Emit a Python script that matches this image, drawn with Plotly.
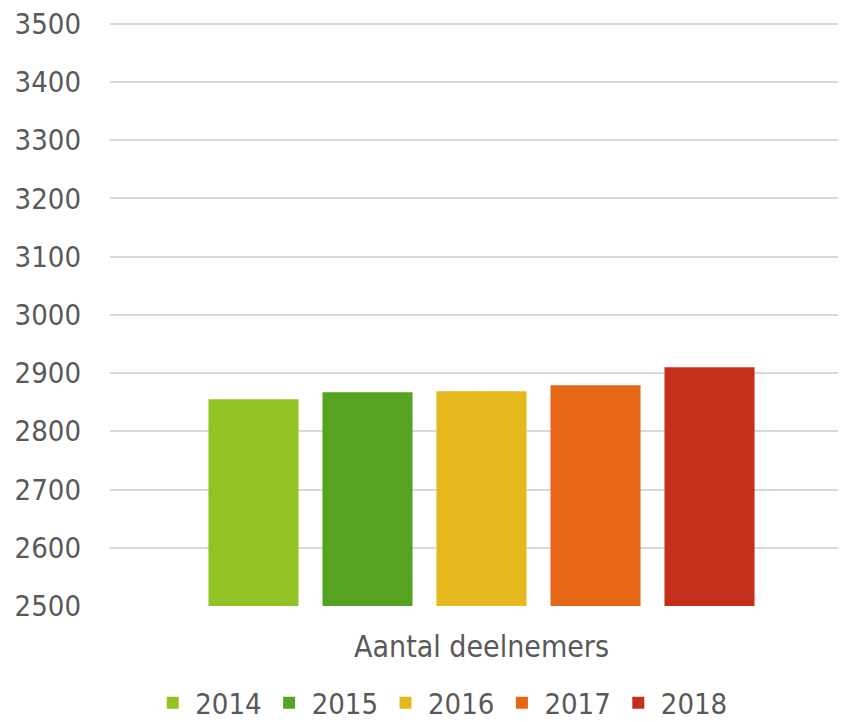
import plotly.graph_objects as go

categories = ["Aantal deelnemers"]
years = ["2014", "2015", "2016", "2017", "2018"]
values = [2855, 2867, 2869, 2879, 2910]
colors = ["#93C225", "#56A221", "#E5B91E", "#E76719", "#C52F1A"]
yticks = [2500, 2600, 2700, 2800, 2900, 3000, 3100, 3200, 3300, 3400, 3500]

FONT = "DejaVu Sans Condensed"
fig = go.Figure()
for y, v, c in zip(years, values, colors):
    fig.add_trace(go.Bar(name=y, x=categories, y=[v], marker=dict(color=c, line=dict(width=0))))

fig.update_layout(
    width=843, height=714,
    margin=dict(l=102, r=13, t=14, b=116, autoexpand=False),
    paper_bgcolor="white", plot_bgcolor="white",
    barmode="group", bargap=0.217, bargroupgap=0.21,
    font=dict(family=FONT, size=30, color="#595959"),
    showlegend=True,
    legend=dict(orientation="h", x=0.455, xanchor="center", y=-0.166, yanchor="middle",
                font=dict(size=29, color="#595959"), itemwidth=35, traceorder="normal"),
    xaxis=dict(range=[-0.5103, 0.4897], showgrid=False, showline=False, ticks="", ticklabelstandoff=20,
               automargin=False, tickfont=dict(size=30, color="#595959")),
    yaxis=dict(range=[2500, 3503], tickvals=yticks, ticklabeloverflow="allow",
               showgrid=True, gridcolor="#D9D9D9", gridwidth=2, zeroline=False, showline=False,
               automargin=False, ticklabelstandoff=28, tickfont=dict(size=29, color="#595959")),
)
fig.write_html("out.html")
